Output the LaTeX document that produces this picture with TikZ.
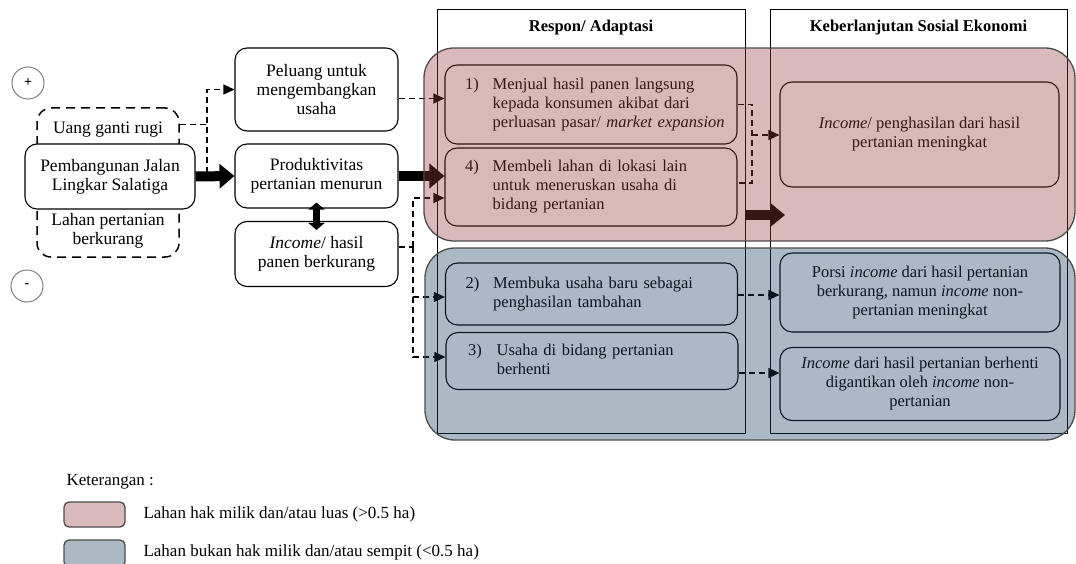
\documentclass[tikz,border=0pt]{standalone}
\usepackage{fontspec}
\setmainfont{Liberation Serif}
\usetikzlibrary{arrows.meta,calc}
\definecolor{pinkbase}{RGB}{150,60,60}
\definecolor{bluebase}{RGB}{25,60,95}
\begin{document}
\begin{tikzpicture}[x=1pt,y=-1pt,
  font=\fontsize{16.5}{19}\selectfont,
  box/.style={draw, line width=1.1pt, rounded corners=12pt, fill=white, align=center, inner sep=0pt},
  lbox/.style={box, font=\fontsize{17.5}{19}\selectfont},
  ltext/.style={font=\fontsize{17.5}{19}\selectfont, align=center},
  rbox/.style={box, text width=262pt, align=left, inner xsep=15pt},
  dbox/.style={draw, line width=1.5pt, dash pattern=on 9pt off 6pt, rounded corners=14pt},
  colframe/.style={draw, line width=1pt, inner sep=0pt},
  dashconn/.style={line width=1.3pt, dash pattern=on 6pt off 4pt},
  dasharr/.style={dashconn, -{Triangle[length=11pt,width=10pt]}},
  bigarr/.style={line width=10pt, -{Triangle[length=15pt,width=24pt]}},
  dblarr/.style={line width=7pt, {Triangle[length=7pt,width=16pt]}-{Triangle[length=7pt,width=16pt]}},
  pmcircle/.style={circle, draw=black!50, line width=1pt, minimum size=32pt, inner sep=0pt, font=\fontsize{14}{14}\selectfont\bfseries},
  region/.style={rounded corners=30pt, draw=black!70, line width=1.3pt, fill opacity=0.36},
  swatch/.style={rounded corners=5pt, draw=black!70, line width=1.3pt, fill opacity=0.36},
  head/.style={font=\fontsize{16.5}{19}\selectfont\bfseries},
  legtext/.style={anchor=west, font=\fontsize{17}{19}\selectfont}
]
\useasboundingbox (0,0) rectangle (1076,564);

% column frames
\node[colframe, minimum width=308pt, minimum height=423pt] (respframe) at (591,221.5) {};
\node[colframe, minimum width=297pt, minimum height=423pt] (kebframe) at (918.5,221.5) {};
\node[head] (resphead) at (591,28) {Respon/ Adaptasi};
\node[head] (kebhead) at (918.5,28) {Keberlanjutan Sosial Ekonomi};

% plus / minus
\node[pmcircle] (plus) at (28,83) {+};
\node[pmcircle] (minus) at (27,286) {-};

% left cluster
\node[dbox, minimum width=142pt, minimum height=149pt] (uang) at (108,182.5) {};
\node[ltext] (uangtxt) at (108,130) {Uang ganti rugi};
\node[ltext] (lahantxt) at (108,231) {Lahan pertanian\\berkurang};
\node[lbox, minimum width=170pt, minimum height=65pt] (main) at (110,176.5) {Pembangunan Jalan\\Lingkar Salatiga};

% middle column
\node[lbox, minimum width=163pt, minimum height=83pt] (peluang) at (316.5,89.5) {Peluang untuk\\mengembangkan\\usaha};
\node[lbox, minimum width=163pt, minimum height=64pt] (prod) at (316.5,176) {Produktivitas\\pertanian menurun};
\node[lbox, minimum width=163pt, minimum height=65pt] (income) at (316.5,254) {\textit{Income}/ hasil\\panen berkurang};

% response boxes
\node[rbox, minimum height=79pt] (box1) at (591,104.5) {\begin{tabular}{@{\hspace{5pt}}l@{\hspace{14pt}}l@{}}1) & Menjual hasil panen langsung\\ & kepada konsumen akibat dari\\ & perluasan pasar/ \textit{market expansion}\end{tabular}};
\node[rbox, minimum height=78pt] (box4) at (591,187) {\begin{tabular}{@{\hspace{5pt}}l@{\hspace{14pt}}l@{}}4) & Membeli lahan di lokasi lain\\ & untuk meneruskan usaha di\\ & bidang pertanian\end{tabular}};
\node[rbox, minimum height=62pt] (box2) at (591.5,294) {\begin{tabular}{@{\hspace{5pt}}l@{\hspace{14pt}}l@{}}2) & Membuka usaha baru sebagai\\ & penghasilan tambahan\end{tabular}};
\node[rbox, minimum height=57pt] (box3) at (592,361) {\begin{tabular}{@{\hspace{7pt}}l@{\hspace{15pt}}l@{}}3) & Usaha di bidang pertanian\\ & berhenti\end{tabular}};

% sustainability boxes
\node[box, minimum width=279pt, minimum height=105pt] (r1) at (919.5,134.5) {\textit{Income}/ penghasilan dari hasil\\pertanian meningkat};
\node[box, minimum width=280pt, minimum height=79pt] (r2) at (920,292.5) {Porsi \textit{income} dari hasil pertanian\\berkurang, namun \textit{income} non-\\pertanian meningkat};
\node[box, minimum width=280pt, minimum height=73pt] (r3) at (920,384) {\textit{Income} dari hasil pertanian berhenti\\digantikan oleh \textit{income} non-\\pertanian};

% connectors left
\coordinate (j1) at (207,173);
\coordinate (ug) at ($(uang.north east)+(0,17)$);
\draw[dashconn] (ug) -| (j1);
\draw[dasharr] (j1) |- (peluang.west);
\draw[bigarr] (main.east) -- (prod.west);
\coordinate (d0) at ($(prod.south)+(0,-6)$);
\coordinate (d1) at ($(income.north)+(0,9)$);
\draw[dblarr] (d0) -- (d1);

% connectors middle -> response
\coordinate (p1) at ($(peluang.east)+(0,9)$);
\draw[dasharr] (p1) -- (p1 -| box1.west);
\draw[bigarr] (prod.east) -- (prod.east -| box4.west);
\coordinate (ib) at (413,247);
\coordinate (a4) at ($(box4.west)+(0,11)$);
\coordinate (a2) at ($(box2.west)+(0,3)$);
\coordinate (a3) at ($(box3.west)+(0,-4)$);
\draw[dashconn] (income.east |- ib) -- (ib);
\draw[dasharr] (ib) |- (a4);
\draw[dasharr] (ib) |- (a2);
\draw[dasharr] (ib) |- (a3);

% connectors response -> sustainability
\coordinate (br) at (752,135);
\coordinate (e4) at ($(box4.east)+(0,-4)$);
\draw[dashconn] (box1.east) -| (br) |- (e4);
\draw[dasharr] (br) -- (br -| r1.west);
\coordinate (t0) at (745,215);
\coordinate (t1) at (785,215);
\draw[line width=10pt, -{Triangle[length=14pt,width=22pt]}] (t0) -- (t1);
\coordinate (b2) at ($(box2.east)+(0,1)$);
\coordinate (b3) at ($(box3.east)+(0,12)$);
\draw[dasharr] (b2) -- (b2 -| r2.west);
\draw[dasharr] (b3) -- (b3 -| r3.west);

% coloured regions (translucent overlays)
\draw[region, fill=pinkbase] (424,48) rectangle (1075,241);
\draw[region, fill=bluebase] (425,248) rectangle (1075,440);

% legend
\node[legtext] (ket) at (63,482) {Keterangan :};
\draw[swatch, fill=pinkbase] (64,502) rectangle (125,527);
\draw[swatch, fill=bluebase] (64,540) rectangle (125,567);
\node[legtext] (leg1) at (140,514) {Lahan hak milik dan/atau luas (>0.5 ha)};
\node[legtext] (leg2) at (140,552) {Lahan bukan hak milik dan/atau sempit (<0.5 ha)};
\end{tikzpicture}
\end{document}
